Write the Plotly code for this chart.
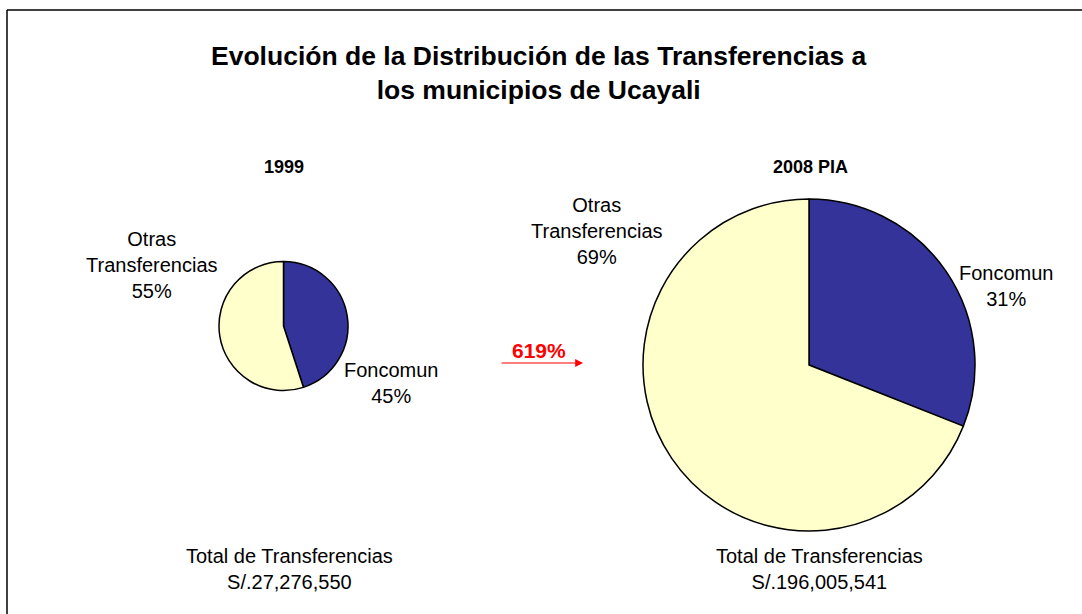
import plotly.graph_objects as go

W, H = 1082, 614

categories = ["Foncomun", "Otras Transferencias"]
values_1999 = [45, 55]
values_2008 = [31, 69]
totals = ["S/.27,276,550", "S/.196,005,541"]
years = ["1999", "2008 PIA"]
growth = "619%"
colors = ["#333399", "#FFFFCC"]

def px(x):
    return x / W

def py(y):
    return 1 - y / H

fig = go.Figure()

# small pie: center (283.5, 326), r 64.5
fig.add_trace(go.Pie(
    labels=categories, values=values_1999, sort=False, direction="clockwise", rotation=0,
    marker=dict(colors=colors, line=dict(color="black", width=1.5)),
    textinfo="none", hoverinfo="label+percent", showlegend=False,
    domain=dict(x=[px(219), px(348)], y=[py(390.5), py(261.5)]),
))
# large pie: center (809, 365), r 166
fig.add_trace(go.Pie(
    labels=categories, values=values_2008, sort=False, direction="clockwise", rotation=0,
    marker=dict(colors=colors, line=dict(color="black", width=1.5)),
    textinfo="none", hoverinfo="label+percent", showlegend=False,
    domain=dict(x=[px(643), px(975)], y=[py(531), py(199)]),
))

font = "Liberation Sans, Arial, sans-serif"
ann = []

def txt(x, y, s, size=20, bold=False, color="black"):
    if bold:
        s = "<b>" + s.replace("<br>", "</b><br><b>") + "</b>"
    ann.append(dict(x=px(x), y=py(y), xref="paper", yref="paper", text=s, showarrow=False,
                    font=dict(family=font, size=size, color=color), xanchor="center", yanchor="middle",
                    align="center"))

txt(539, 73, "Evolución de la Distribución de las Transferencias a<br>los municipios de Ucayali", size=26.5, bold=True)
txt(284, 167, years[0], size=18, bold=True)
txt(810, 167, years[1], size=18, bold=True)
txt(152, 265, "Otras<br>Transferencias<br>%d%%" % values_1999[1])
txt(391, 383, "Foncomun<br>%d%%" % values_1999[0])
txt(597, 231, "Otras<br>Transferencias<br>%d%%" % values_2008[1])
txt(1006, 286, "Foncomun<br>%d%%" % values_2008[0])
txt(289, 569, "Total de Transferencias<br>" + totals[0])
txt(819, 569, "Total de Transferencias<br>" + totals[1])
txt(539, 350, growth, size=21, bold=True, color="#FF0000")

ann.append(dict(x=px(583), y=py(363), xref="paper", yref="paper", ax=-83, ay=0,
                axref="pixel", ayref="pixel", text="", showarrow=True, arrowhead=2,
                arrowsize=1.3, arrowwidth=1.2, arrowcolor="#FF0000"))

shapes = [
    dict(type="line", xref="paper", yref="paper", x0=px(7), x1=1, y0=py(10), y1=py(10),
         line=dict(color="black", width=1.5)),
    dict(type="line", xref="paper", yref="paper", x0=px(7), x1=px(7), y0=py(10), y1=0,
         line=dict(color="black", width=1.5)),
]

fig.update_layout(
    width=W, height=H, margin=dict(l=0, r=0, t=0, b=0),
    paper_bgcolor="white", plot_bgcolor="white",
    annotations=ann, shapes=shapes, font=dict(family=font),
)

fig.write_html("out.html", config={"displayModeBar": False},
               post_script="document.body.style.margin='0';document.body.style.overflow='hidden';")
